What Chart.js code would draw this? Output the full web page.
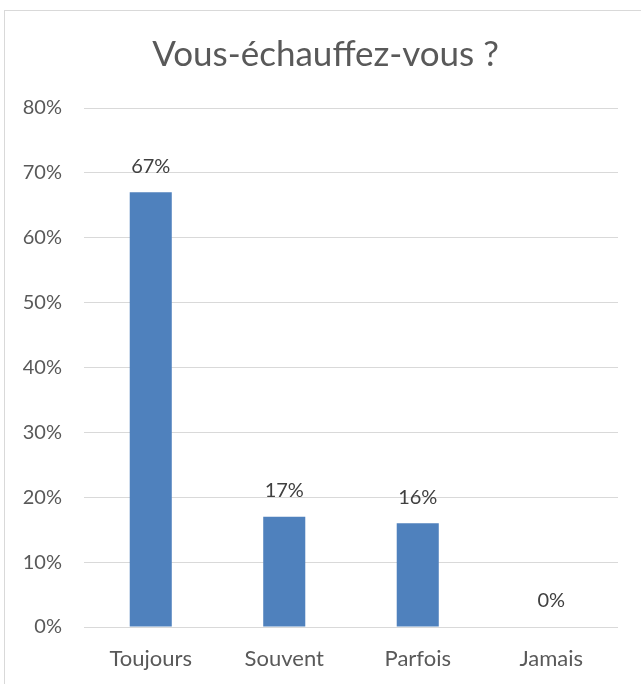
<!DOCTYPE html>
<html>
<head>
<meta charset="utf-8">
<script src="https://cdn.jsdelivr.net/npm/chart.js@4.4.0/dist/chart.umd.min.js"></script>
<style>
    body { margin: 0; background: #fff; }
    #frame { position: absolute; left: 4px; top: 10px; width: 700px; height: 700px; border: 1px solid #d9d9d9; }
    #wrap { position: absolute; left: 0; top: 0; width: 641px; height: 684px; }
</style>
</head>
<body>
<div id="frame"></div>
<div id="wrap"><canvas id="chart" width="641" height="684"></canvas></div>
<script>
// Data
const categories = ['Toujours', 'Souvent', 'Parfois', 'Jamais'];
const values = [67, 17, 16, 0];
const yTicks = [0, 10, 20, 30, 40, 50, 60, 70, 80];
const titleText = 'Vous-échauffez-vous ?';

const FONT = 'Lato, "Open Sans", sans-serif';

// Title, centred on the outer frame rather than the canvas
const frameTitle = {
    id: 'frameTitle',
    afterDraw(chart) {
        const ctx = chart.ctx;
        ctx.save();
        ctx.font = '35px ' + FONT;
        ctx.fillStyle = '#595959';
        ctx.textAlign = 'center';
        ctx.textBaseline = 'middle';
        ctx.fillText(titleText, chart.width / 2 + 5, 55);
        ctx.restore();
    }
};

// Value labels above bars
const barLabels = {
    id: 'barLabels',
    afterDatasetsDraw(chart) {
        const ctx = chart.ctx;
        const meta = chart.getDatasetMeta(0);
        ctx.save();
        ctx.font = '20px ' + FONT;
        ctx.fillStyle = '#404040';
        ctx.textAlign = 'center';
        ctx.textBaseline = 'middle';
        meta.data.forEach((bar, i) => {
            ctx.fillText(values[i] + '%', bar.x, bar.y - 26);
        });
        ctx.restore();
    }
};

new Chart(document.getElementById('chart'), {
    type: 'bar',
    data: {
        labels: categories,
        datasets: [{
            data: values,
            backgroundColor: '#4f81bd',
            barPercentage: 0.315,
            categoryPercentage: 1
        }]
    },
    options: {
        responsive: false,
        animation: false,
        layout: { padding: { left: 0, right: 23, top: 108, bottom: 0 } },
        plugins: {
            legend: { display: false },
            tooltip: { enabled: false },
            title: { display: false }
        },
        scales: {
            x: {
                grid: { display: false },
                border: { display: false },
                ticks: { color: '#595959', font: { family: FONT, size: 22 }, padding: 11 },
                afterFit: s => { s.height = 57; }
            },
            y: {
                min: 0,
                max: 80,
                afterBuildTicks: s => { s.ticks = yTicks.map(v => ({ value: v })); },
                grid: { color: '#d9d9d9', lineWidth: 1, drawTicks: false },
                border: { display: false },
                ticks: {
                    color: '#595959',
                    font: { family: FONT, size: 20 },
                    padding: 22,
                    callback: v => v + '%'
                },
                afterFit: s => { s.width = 84; }
            }
        }
    },
    plugins: [barLabels, frameTitle]
});
</script>
</body>
</html>
